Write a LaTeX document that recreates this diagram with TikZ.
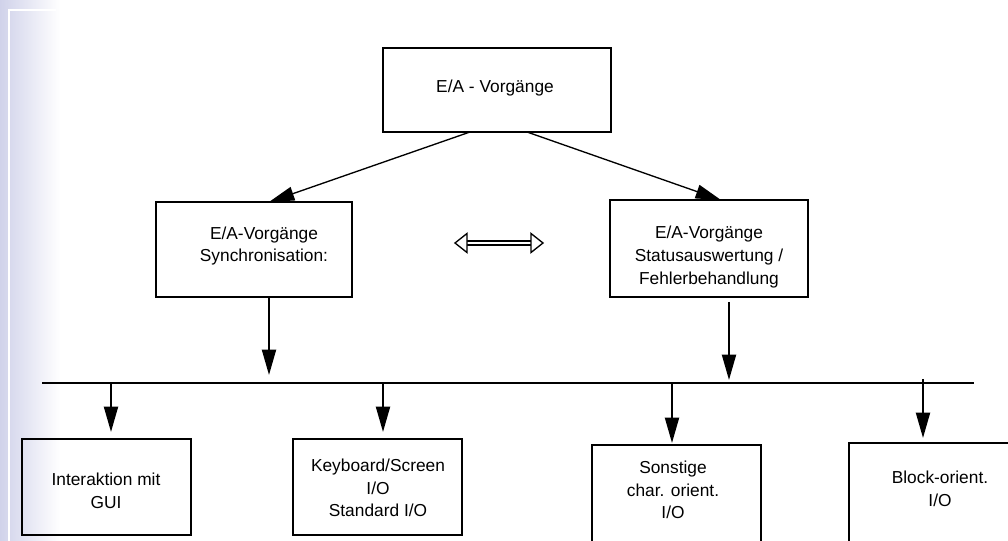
\documentclass[tikz,border=0pt]{standalone}
\usepackage{fontspec}
\setmainfont{Liberation Sans}
\usetikzlibrary{arrows.meta,calc,fit}
\definecolor{lav}{RGB}{208,210,234}
\begin{document}
\begin{tikzpicture}[x=0.75pt,y=-0.75pt,
  box/.style={draw=black,line width=1.5pt,rectangle,inner sep=0pt,outer sep=0pt},
  txt/.style={align=center,font=\fontsize{13}{16.9}\selectfont,inner sep=0pt},
  thinarrow/.style={line width=1pt,-{Triangle[length=19pt,width=10.5pt]}},
  busarrow/.style={line width=1.5pt,-{Triangle[length=19pt,width=10.5pt]}},
  busline/.style={line width=1.5pt},
  dblhead/.style={line width=1pt,line join=miter},
  dblbar/.style={line width=1.2pt}
]
\useasboundingbox (0,0) rectangle (1008,541);
\clip (0,0) rectangle (1008,541);
% slide background strip
\shade[left color=lav,right color=white] (0,0) rectangle (60,541);
\draw[white,line width=1.2pt] (56,10) -- (9,10) -- (9,545);

% boxes
\node[box,fit={(383,48)(611,132)}] (top) {};
\node[box,fit={(156,202)(352,297)}] (sync) {};
\node[box,fit={(610,200)(808,297)}] (stat) {};
\node[box,fit={(22,439)(191,535)}] (gui) {};
\node[box,fit={(293,439)(462,535)}] (kbd) {};
\node[box,fit={(592,445)(761,550)}] (sonst) {};
\node[box,fit={(849,443)(1020,550)}] (block) {};

% texts
\node[txt] (toptxt) at (495,88) {E/A - Vorgänge};
\node[txt] (synctxt) at (264,246) {E/A-Vorgänge\\Synchronisation:};
\node[txt] (stattxt) at (709,257) {E/A-Vorgänge\\Statusauswertung /\\Fehlerbehandlung};
\node[txt] (guitxt) at (106,491) {Interaktion mit\\GUI};
\node[txt] (kbdtxt) at (378,488) {Keyboard/Screen\\I/O\\Standard I/O};
\node[txt] (sonsttxt) at (673,490) {Sonstige\\char. orient.\\I/O};
\node[txt] (blocktxt) at (940,489) {Block-orient.\\I/O};

% diagonal arrows
\coordinate (tl) at (470,132);
\coordinate (tr) at (527,132);
\coordinate (sn) at (269,202);
\coordinate (stn) at (721,200);
\draw[thinarrow] (tl) -- (sn);
\draw[thinarrow] (tr) -- (stn);

% double arrow
\coordinate (dl) at (455,243);
\coordinate (dr) at (543,243);
\draw[dblbar] ($(dl)+(12,-2.2)$) -- ($(dr)+(-12,-2.2)$);
\draw[dblbar] ($(dl)+(12,2.2)$) -- ($(dr)+(-12,2.2)$);
\draw[dblhead,fill=white] (dl) -- ++(12,-9.5) -- ++(0,19) -- cycle;
\draw[dblhead,fill=white] (dr) -- ++(-12,-9.5) -- ++(0,19) -- cycle;

% bus
\coordinate (busL) at (42,383);
\coordinate (busR) at (974,383);
\draw[busline] (busL) -- (busR);

% arrows into bus
\coordinate (ss) at (269,297);
\coordinate (sb) at (269,375);
\coordinate (st) at (729,302);
\coordinate (stb) at (729,380);
\draw[busarrow] (ss) -- (sb);
\draw[busarrow] (st) -- (stb);

% arrows from bus
\coordinate (b1) at (111,383);
\coordinate (b2) at (383,383);
\coordinate (b3) at (672,383);
\coordinate (b4) at (923,379);
\coordinate (g1) at (111,432);
\coordinate (g2) at (383,432);
\coordinate (g3) at (672,443);
\coordinate (g4) at (923,438);
\draw[busarrow] (b1) -- (g1);
\draw[busarrow] (b2) -- (g2);
\draw[busarrow] (b3) -- (g3);
\draw[busarrow] (b4) -- (g4);
\end{tikzpicture}
\end{document}
